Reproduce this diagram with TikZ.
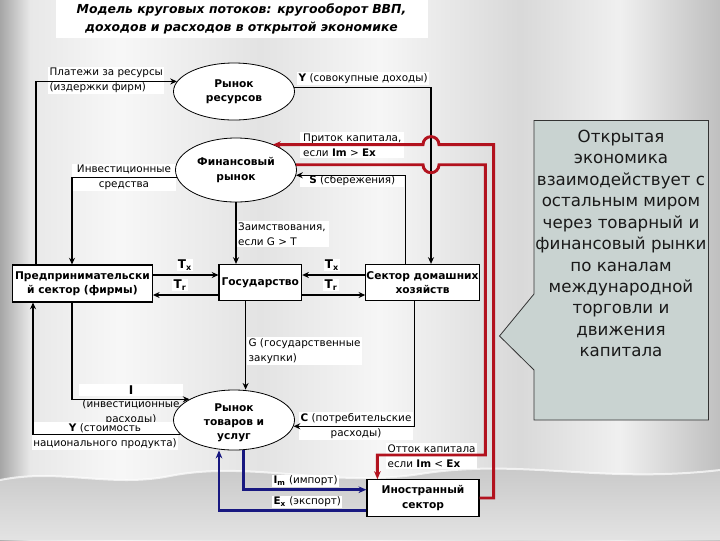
\documentclass[tikz,border=0pt]{standalone}
\usepackage{fontspec}
\setmainfont{DejaVu Sans}[ItalicFont={DejaVu Sans Oblique},BoldItalicFont={DejaVu Sans Bold Oblique}]
\usetikzlibrary{shapes.geometric,arrows.meta,calc}

\definecolor{capred}{RGB}{178,18,30}
\definecolor{tradeblue}{RGB}{24,24,128}
\definecolor{notefill}{RGB}{201,211,209}

\newcommand\lblfont{\fontsize{7.8}{11.2}\selectfont}
\newcommand\nodefont{\fontsize{8}{10.6}\selectfont\bfseries}
\newcommand\taxfont{\fontsize{9}{10}\selectfont\bfseries}

\tikzset{
  flow/.style={draw=black, line width=1.1pt, -{Stealth[length=5pt,width=4.5pt]}},
  capflow/.style={draw=capred, line width=2.2pt, -{Stealth[length=6pt,width=5pt]}},
  tradeflow/.style={draw=tradeblue, line width=2.2pt, -{Stealth[length=6pt,width=5pt]}},
  market/.style={ellipse, draw, fill=white, line width=0.6pt, inner sep=0pt, minimum width=90.75pt},
  mtext/.style={font=\nodefont, align=center, inner sep=0pt},
  sector/.style={rectangle, draw, fill=white, line width=0.8pt, inner sep=0.5pt, font=\nodefont, align=center},
  lbl/.style={fill=white, inner sep=1pt, font=\lblfont, align=left, anchor=west},
  taxlbl/.style={fill=white, inner sep=1pt, font=\taxfont},
}

\begin{document}
\begin{tikzpicture}[x=0.75pt,y=0.75pt,yscale=-1,xscale=1]
\useasboundingbox (0,0) rectangle (720,540);

% curtain background
\shade[left color=gray!70, right color=gray!18] (0,0) rectangle (30,540);
\shade[left color=gray!18, right color=gray!6] (30,0) rectangle (120,540);
\shade[left color=gray!6, right color=gray!22] (120,0) rectangle (260,540);
\shade[left color=gray!22, right color=gray!7] (260,0) rectangle (380,540);
\shade[left color=gray!7, right color=gray!30] (380,0) rectangle (520,540);
\shade[left color=gray!30, right color=gray!12] (520,0) rectangle (620,540);
\shade[left color=gray!12, right color=gray!50] (620,0) rectangle (720,540);
\shade[top color=gray!45, bottom color=gray!22] (0,480) .. controls (60,468) and (110,488) .. (170,476) .. controls (250,460) and (330,488) .. (420,474) .. controls (520,458) and (600,484) .. (720,470) -- (720,540) -- (0,540) -- cycle;
\draw[white, line width=1.5pt, opacity=0.7] (0,480) .. controls (60,468) and (110,488) .. (170,476) .. controls (250,460) and (330,488) .. (420,474) .. controls (520,458) and (600,484) .. (720,470);

% title
\node[fill=white, minimum width=279pt, minimum height=28.5pt, inner sep=0pt, align=center,
      font=\fontsize{9.3}{13}\selectfont\bfseries\itshape] (title) at (241.5,19)
  {Модель круговых потоков: кругооборот ВВП,\\доходов и расходов в открытой экономике};

% flow labels
\node[lbl] (payL) at (48,80.7) {Платежи за ресурсы\\(издержки фирм)};
\node[lbl] (incL) at (297,78.5) {\textbf{Y} (совокупные доходы)};
\node[lbl, minimum width=78pt] (inflowL) at (300,145) {Приток капитала,\\если \textbf{Im} > \textbf{Ex}};
\node[lbl, anchor=center, align=center, minimum width=78pt] (invfL) at (124,177.7) {Инвестиционные\\средства};
\node[lbl, minimum width=78pt] (saveL) at (300,181) {\textbf{S} (сбережения)};
\node[lbl, minimum width=70pt] (borrowL) at (235,234) {Заимствования,\\если G > T};
\node[taxlbl] (txFL) at (185,265) {T\textsubscript{x}};
\node[taxlbl] (trFL) at (180,285) {T\textsubscript{r}};
\node[taxlbl] (txHL) at (332,265) {T\textsubscript{x}};
\node[taxlbl] (trHL) at (331,285) {T\textsubscript{r}};
\node[lbl] (govbuyL) at (247,351) {G (государственные\\закупки)};
\node[lbl, anchor=center, minimum width=78pt, font=\taxfont] (invL) at (131,390) {I};
\node[font=\lblfont, align=center, inner sep=0pt] (invsubL) at (131,412) {(инвестиционные\\расходы)};
\node[lbl, anchor=center, align=center] (gdpL) at (105,436) {\textbf{Y} (стоимость\\национального продукта)};
\node[lbl, anchor=center, align=center] (consL) at (356,426) {\textbf{C} (потребительские\\расходы)};
\node[lbl] (outflowL) at (386,456) {Отток капитала\\если \textbf{Im} < \textbf{Ex}};
\node[lbl] (impL) at (272,481) {\textbf{I\textsubscript{m}} (импорт)};
\node[lbl] (expL) at (272,502) {\textbf{E\textsubscript{x}} (экспорт)};

% markets
\node[market, minimum height=42.75pt] (res) at (234,91.5) {};
\node[mtext] (resT) at (res) {Рынок\\ресурсов};
\node[market, minimum height=48pt] (fin) at (236,170) {};
\node[mtext] (finT) at (fin) {Финансовый\\рынок};
\node[market, minimum height=45pt] (goods) at (234,420) {};
\node[mtext] (goodsT) at ($(goods)+(0,3)$) {Рынок\\товаров и\\услуг};

% sectors
\node[sector, minimum width=105pt, minimum height=27.75pt] (firms) at (82.4,283.5) {Предпринимательски\\й сектор (фирмы)};
\node[sector, minimum width=62pt, minimum height=27pt] (gov) at (260.3,282.4) {Государство};
\node[sector, minimum width=84.75pt, minimum height=27pt] (hh) at (422.5,282.4) {Сектор домашних\\хозяйств};
\node[sector, minimum width=84pt, minimum height=27.4pt] (foreign) at (423,498) {Иностранный\\сектор};

% note
\draw[fill=notefill, draw=black!80, line width=0.6pt] (534,120.5) -| (708.5,420) -| (534,370) -- (499.5,336) -- (534,294) -- cycle;
\node[align=center, text=black!90, font=\fontsize{12.5}{16.1}\selectfont] (noteT) at (621,243.5)
  {Открытая\\экономика\\взаимодействует с\\остальным миром\\через товарный и\\финансовый рынки\\по каналам\\международной\\торговли и\\движения\\капитала};

% lanes
\coordinate (payX) at (36,0);
\coordinate (natX) at (33,0);
\coordinate (invX) at (72,0);
\coordinate (incX) at (431,0);
\coordinate (saveX) at (405.5,0);
\coordinate (consX) at (414.6,0);
\coordinate (govX) at (245.6,0);
\coordinate (txY) at (0,275);
\coordinate (trY) at (0,295);
\coordinate (inTop) at (493.6,144.6);
\coordinate (outTop) at (485.3,0);
\coordinate (outMid) at (377.4,455);
\coordinate (impC) at (243.3,489.7);
\coordinate (expC) at (219,510.7);

% money flows
\draw[flow] (firms.north -| payX) |- (res.170);
\draw[flow] (res.4) -| (hh.north -| incX);
\draw[flow] (fin.187) -| (firms.north -| invX);
\draw[flow] (hh.north -| saveX) |- (fin.-5);
\draw[flow] (fin.south) -- (fin.south |- gov.north);
\draw[flow] (firms.east |- txY) -- (gov.west |- txY);
\draw[flow] (gov.west |- trY) -- (firms.east |- trY);
\draw[flow] (hh.west |- txY) -- (gov.east |- txY);
\draw[flow] (gov.east |- trY) -- (hh.west |- trY);
\draw[flow] (gov.south -| govX) -- (goods.north -| govX);
\draw[flow] (firms.south -| invX) |- (goods.155);
\draw[flow] (goods.195) -| (firms.south -| natX);
\draw[flow] (hh.south -| consX) |- (goods.-6);

% capital flows
\draw[capflow] (foreign.east) -| (inTop) -- ($(incX |- inTop)+(8,0)$) arc[start angle=0, end angle=-180, radius=8] -- (fin.35 |- inTop);
\draw[capflow] (fin.5) -- ($(incX |- fin.5)+(-8,0)$) arc[start angle=180, end angle=0, radius=8] -| (outTop |- outMid) -- (outMid) -- (foreign.north -| outMid);

% trade flows
\draw[tradeflow] (goods.south -| impC) |- (foreign.west |- impC);
\draw[tradeflow] (foreign.west |- expC) -| (goods.south -| expC);

\end{tikzpicture}
\end{document}
